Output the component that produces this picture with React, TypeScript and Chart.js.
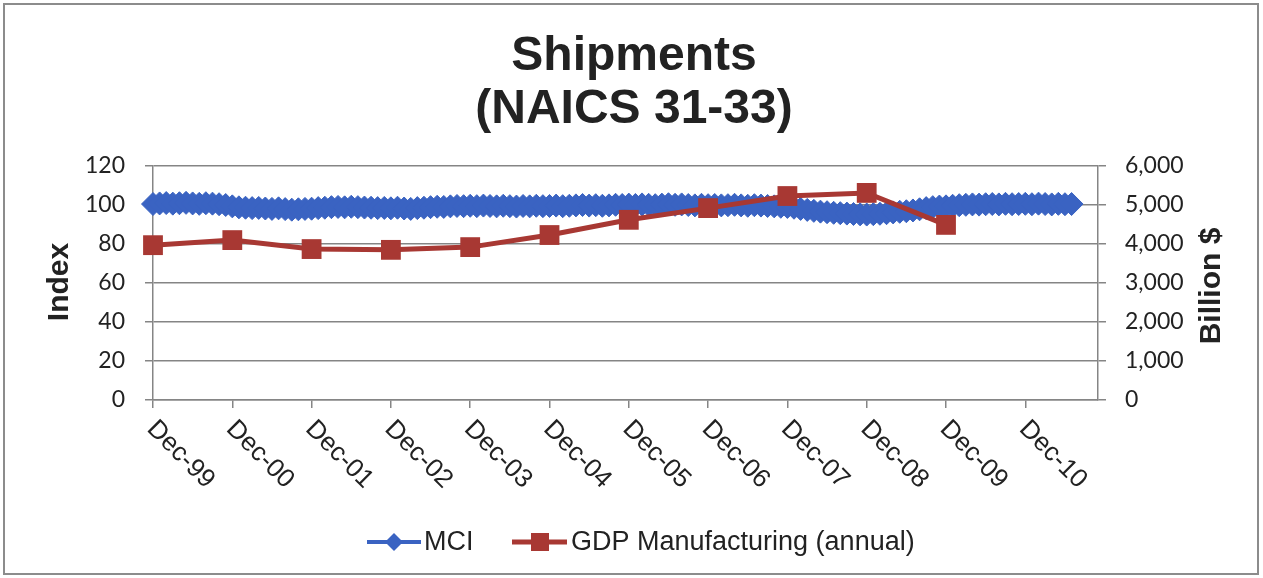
import React, { useEffect, useRef } from 'react';
import { Chart, registerables } from 'chart.js';

Chart.register(...registerables);

const MONTHS = ['Jan', 'Feb', 'Mar', 'Apr', 'May', 'Jun', 'Jul', 'Aug', 'Sep', 'Oct', 'Nov', 'Dec'];
// monthly categories Dec-99 .. Nov-11
const categories: string[] = Array.from({ length: 144 }, (_, i) => {
  const m = (11 + i) % 12;
  const y = 1999 + Math.floor((11 + i) / 12);
  return MONTHS[m] + '-' + String(y % 100).padStart(2, '0');
});

const yearLabels = ['Dec-99', 'Dec-00', 'Dec-01', 'Dec-02', 'Dec-03', 'Dec-04', 'Dec-05', 'Dec-06', 'Dec-07', 'Dec-08', 'Dec-09', 'Dec-10'];

// MCI index, monthly from Dec-99 to Jul-11
const mciValues = [
  100.5, 100.8, 101.0, 100.7, 100.9, 101.1, 100.8, 100.6, 100.9, 100.7, 100.4, 100.0,
  99.3, 98.8, 98.6, 98.4, 98.5, 98.2, 98.0, 98.3, 97.9, 97.6, 97.8, 98.0,
  98.1, 98.4, 98.6, 98.9, 99.0, 98.8, 99.1, 98.9, 98.7, 98.6, 98.4, 98.5,
  98.3, 98.6, 98.2, 98.0, 98.4, 98.6, 98.9, 99.1, 99.0, 99.3, 99.5, 99.4,
  99.6, 99.4, 99.7, 99.5, 99.3, 99.6, 99.4, 99.2, 99.5, 99.3, 99.6, 99.4,
  99.5, 99.7, 99.4, 99.6, 99.8, 100.0, 99.7, 99.9, 99.6, 99.8, 100.1, 100.0,
  100.2, 100.0, 100.3, 100.1, 99.9, 100.2, 100.4, 100.1, 100.3, 100.0, 99.8, 100.1,
  99.9, 100.0, 99.8, 99.9, 100.1, 99.8, 99.6, 99.9, 99.7, 99.5, 99.3, 99.1,
  99.0, 98.6, 98.0, 97.5, 97.0, 96.6, 96.3, 96.0, 95.8, 95.6, 95.4, 95.2,
  95.1, 95.3, 95.5, 95.8, 96.2, 96.5, 96.8, 97.2, 97.8, 98.4, 98.9, 99.2,
  99.3, 99.6, 99.9, 100.1, 100.3, 100.2, 100.4, 100.5, 100.3, 100.6, 100.4, 100.5,
  100.6, 100.4, 100.7, 100.5, 100.3, 100.6, 100.4, 100.5,
];

// GDP Manufacturing (annual), billion $
const gdpDates = ['Dec-99', 'Dec-00', 'Dec-01', 'Dec-02', 'Dec-03', 'Dec-04', 'Dec-05', 'Dec-06', 'Dec-07', 'Dec-08', 'Dec-09'];
const gdpValues = [3970, 4100, 3870, 3850, 3920, 4230, 4620, 4920, 5230, 5310, 4490];

const BLUE = '#3a63c2';
const RED = '#a83833';
const GRID = '#858585';
const TEXT = '#222222';

export default function App() {
  const ref = useRef<HTMLCanvasElement | null>(null);

  useEffect(() => {
    const canvas = ref.current;
    if (!canvas) return;

    const mciSeries = categories.map((_, i) => (i < mciValues.length ? mciValues[i] : null));
    const gdpSeries = categories.map((c) => {
      const k = gdpDates.indexOf(c);
      return k >= 0 ? gdpValues[k] : null;
    });

    const decor = {
      id: 'decor',
      beforeDraw(chart: any) {
        const ctx = chart.ctx;
        ctx.save();
        ctx.fillStyle = '#ffffff';
        ctx.fillRect(0, 0, chart.width, chart.height);
        ctx.restore();
      },
      afterDraw(chart: any) {
        const ctx = chart.ctx;
        ctx.save();
        // frame
        ctx.strokeStyle = '#8c8c8c';
        ctx.lineWidth = 2;
        ctx.strokeRect(4, 4, 1254, 570);

        // title
        ctx.fillStyle = TEXT;
        ctx.textAlign = 'center';
        ctx.textBaseline = 'alphabetic';
        ctx.font = 'bold 48px "Liberation Sans", Arial, sans-serif';
        ctx.fillText('Shipments', 634, 70);
        ctx.fillText('(NAICS 31-33)', 634, 123);

        // axis titles
        ctx.font = 'bold 30px "Liberation Sans", Arial, sans-serif';
        ctx.textBaseline = 'middle';
        ctx.save();
        ctx.translate(60, 282);
        ctx.rotate(-Math.PI / 2);
        ctx.fillText('Index', 0, 0);
        ctx.restore();
        ctx.save();
        ctx.translate(1212, 286);
        ctx.rotate(-Math.PI / 2);
        ctx.fillText('Billion $', 0, 0);
        ctx.restore();

        // x labels rotated 45deg
        const xs = chart.scales.x;
        const base = chart.chartArea.bottom;
        ctx.font = '26px "Liberation Sans", Arial, sans-serif';
        ctx.textAlign = 'left';
        ctx.textBaseline = 'middle';
        yearLabels.forEach((lab) => {
          const idx = categories.indexOf(lab);
          const x = xs.getPixelForValue(idx);
          ctx.save();
          ctx.translate(x - 2, base + 25);
          ctx.rotate(Math.PI / 4);
          ctx.fillText(lab, 0, 0);
          ctx.restore();
        });

        // legend
        const ly = 542;
        ctx.lineCap = 'butt';
        ctx.strokeStyle = BLUE;
        ctx.lineWidth = 4;
        ctx.beginPath();
        ctx.moveTo(367, ly);
        ctx.lineTo(421, ly);
        ctx.stroke();
        ctx.fillStyle = BLUE;
        ctx.beginPath();
        ctx.moveTo(394, ly - 9);
        ctx.lineTo(403, ly);
        ctx.lineTo(394, ly + 9);
        ctx.lineTo(385, ly);
        ctx.closePath();
        ctx.fill();

        ctx.strokeStyle = RED;
        ctx.lineWidth = 5;
        ctx.beginPath();
        ctx.moveTo(512, ly);
        ctx.lineTo(567, ly);
        ctx.stroke();
        ctx.fillStyle = RED;
        ctx.fillRect(531, ly - 9, 18, 18);

        ctx.fillStyle = TEXT;
        ctx.font = '27px "Liberation Sans", Arial, sans-serif';
        ctx.textAlign = 'left';
        ctx.textBaseline = 'middle';
        ctx.fillText('MCI', 424, ly + 1);
        ctx.fillText('GDP Manufacturing (annual)', 571, ly + 1);
        ctx.restore();
      },
    };

    const chart = new Chart(canvas, {
      type: 'line',
      data: {
        labels: categories,
        datasets: [
          {
            label: 'MCI',
            data: mciSeries,
            yAxisID: 'y',
            borderColor: BLUE,
            backgroundColor: BLUE,
            borderWidth: 5,
            pointStyle: 'rectRot',
            pointRadius: 11.5,
            pointBorderWidth: 1,
            pointBackgroundColor: BLUE,
            pointBorderColor: BLUE,
            tension: 0,
            order: 1,
          },
          {
            label: 'GDP Manufacturing (annual)',
            data: gdpSeries,
            yAxisID: 'y2',
            borderColor: RED,
            backgroundColor: RED,
            borderWidth: 5,
            pointStyle: 'rect',
            pointRadius: 14,
            pointBorderWidth: 0,
            pointBackgroundColor: RED,
            spanGaps: true,
            tension: 0,
            order: 0,
          },
        ],
      },
      options: {
        animation: false,
        responsive: false,
        events: [],
        layout: { padding: { left: 4, right: 4, top: 166, bottom: 4 } },
        plugins: {
          legend: { display: false },
          title: { display: false },
          tooltip: { enabled: false },
        },
        scales: {
          x: {
            type: 'category',
            offset: false,
            grid: {
              drawOnChartArea: false,
              drawTicks: true,
              tickLength: 8,
              lineWidth: 1.5,
              color: (c: any) => (c.index % 12 === 0 ? GRID : 'rgba(0,0,0,0)'),
            },
            border: { color: GRID, width: 1.5 },
            ticks: { display: false, autoSkip: false },
            afterFit: (s: any) => {
              s.height = 174;
            },
          },
          y: {
            position: 'left',
            min: 0,
            max: 120,
            ticks: {
              stepSize: 20,
              padding: 20,
              color: TEXT,
              font: { family: 'Lato', size: 23 },
            },
            grid: { color: GRID, lineWidth: 1.5, tickLength: 8 },
            border: { color: GRID, width: 1.5 },
            afterFit: (s: any) => {
              s.width = 149;
            },
          },
          y2: {
            position: 'right',
            min: 0,
            max: 6000,
            ticks: {
              stepSize: 1000,
              padding: 19,
              color: TEXT,
              font: { family: 'Lato', size: 23 },
              callback: (v: any) => Number(v).toLocaleString('en-US'),
            },
            grid: { drawOnChartArea: false, color: GRID, lineWidth: 1.5, tickLength: 8 },
            border: { color: GRID, width: 1.5 },
            afterFit: (s: any) => {
              s.width = 161;
            },
          },
        },
      },
      plugins: [decor],
    } as any);

    return () => chart.destroy();
  }, []);

  return (
    <div style={{ position: 'fixed', left: 0, top: 0, width: 1263, height: 578, background: '#fff' }}>
      <canvas ref={ref} width={1263} height={578} style={{ display: 'block', width: 1263, height: 578 }} />
    </div>
  );
}
